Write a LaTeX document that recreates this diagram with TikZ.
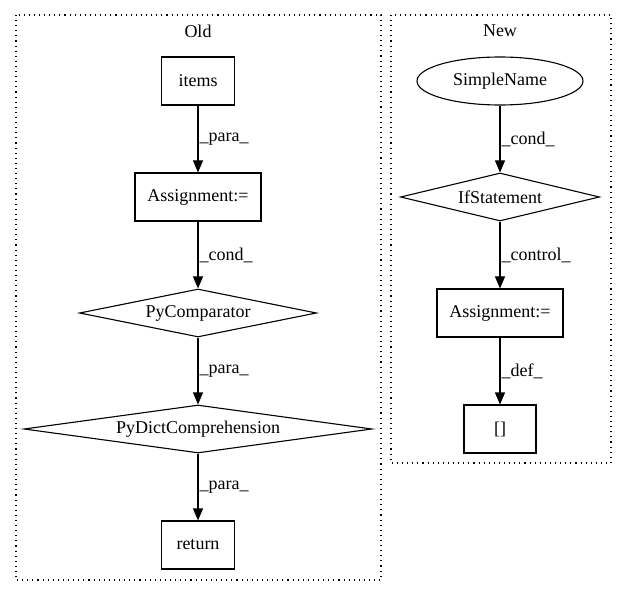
\documentclass[tikz,border=0pt]{standalone}
\usepackage{fontspec}
\setmainfont{Liberation Serif}
\usetikzlibrary{shapes.geometric,arrows.meta}

\tikzset{
    box/.style={draw, rectangle, minimum height=48pt, inner sep=0pt, line width=1.1pt},
    dia/.style={draw, diamond, minimum height=48pt, inner sep=0pt, line width=1.1pt},
    oval/.style={draw, ellipse, minimum height=48pt, inner sep=0pt, line width=1.1pt},
    flow/.style={-{Triangle[length=12pt,width=10pt]}, line width=1.1pt},
    lbl/.style={right, inner sep=1pt, pos=0.5},
    cluster/.style={draw, line width=1.1pt, dash pattern=on 1.1pt off 4pt}
}

\begin{document}
\begin{tikzpicture}[x=1pt, y=-1pt, font=\fontsize{18}{20}\selectfont]
    \useasboundingbox (0,0) rectangle (627,596);

    % clusters
    \draw[cluster] (16,15) rectangle (381,580);
    \draw[cluster] (391,15) rectangle (611,463);
    \node (old) at (198,31){Old};
    \node (new) at (500,31){New};

    % Old
    \node[box, minimum width=73pt] (items) at (198,81){items};
    \node[box, minimum width=126pt] (assignold) at (198,197){Assignment:=};
    \node[dia,
        minimum width=237pt,
        shape aspect=4.9
    ] (pycomp) at (198,313){PyComparator};
    \node[dia,
        minimum width=348pt,
        shape aspect=7.2
    ] (pydict) at (198,429){PyDictComprehension};
    \node[box, minimum width=73pt] (return) at (198,545){return};

    \draw[flow] (items) -- (assignold) node[lbl]{\_para\_};
    \draw[flow] (assignold) -- (pycomp) node[lbl]{\_cond\_};
    \draw[flow] (pycomp) -- (pydict) node[lbl]{\_para\_};
    \draw[flow] (pydict) -- (return) node[lbl]{\_para\_};

    % New
    \node[oval, minimum width=166pt] (simplename) at (500,81){SimpleName};
    \node[dia,
        minimum width=199pt,
        shape aspect=4.1
    ] (ifstmt) at (500,197){IfStatement};
    \node[box, minimum width=126pt] (assignnew) at (500,313){Assignment:=};
    \node[box, minimum width=72pt] (brackets) at (500,429){[]};

    \draw[flow] (simplename) -- (ifstmt) node[lbl]{\_cond\_};
    \draw[flow] (ifstmt) -- (assignnew) node[lbl]{\_control\_};
    \draw[flow] (assignnew) -- (brackets) node[lbl]{\_def\_};

\end{tikzpicture}
\end{document}
